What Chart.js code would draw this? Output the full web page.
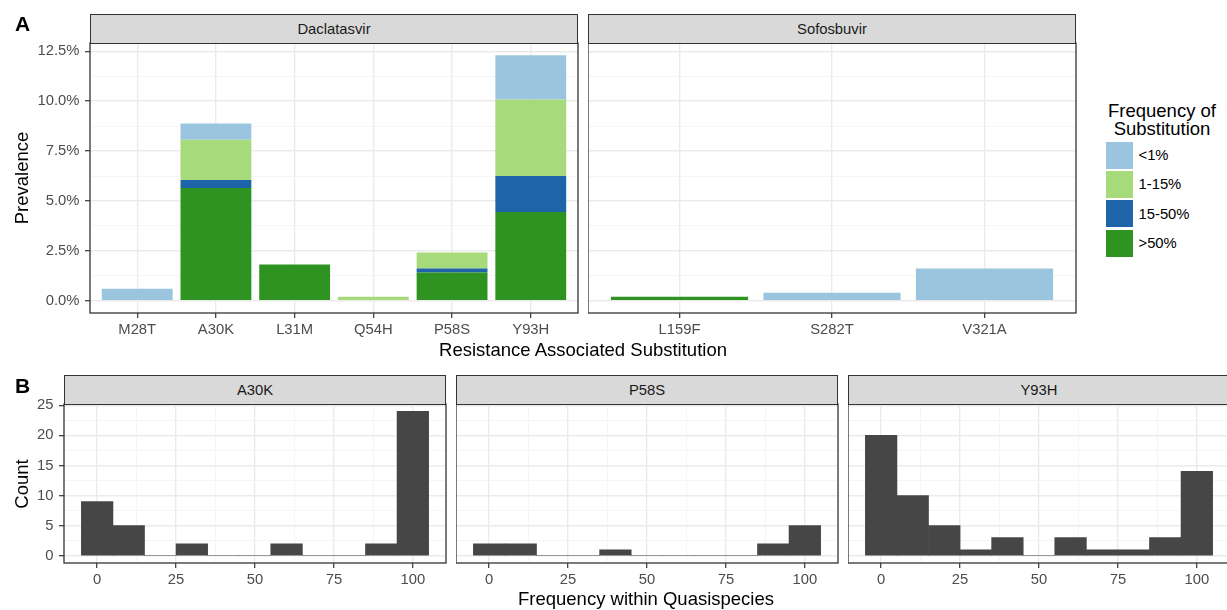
<!DOCTYPE html>
<html>
<head>
<meta charset="utf-8">
<title>Resistance associated substitutions</title>
<script src="https://cdn.jsdelivr.net/npm/chart.js@4.4.1/dist/chart.umd.min.js"></script>
<style>
  body { margin: 0; background: #fff; }
  #fig { position: relative; width: 1227px; height: 610px; overflow: hidden;
         font-family: "Liberation Sans", Arial, sans-serif; }
  #fig canvas { position: absolute; }
  .lbl { position: absolute; line-height: 1; white-space: nowrap; color: #000; }
  .strip { position: absolute; box-sizing: border-box; background: #d9d9d9;
           border: 1px solid #333; color: #1a1a1a; font-size: 14.8px;
           display: flex; align-items: center; justify-content: center; }
  .key { position: absolute; width: 27px; height: 27px; }
</style>
</head>
<body>
<div id="fig"></div>
<script>
// ---- data ----
const freqLevels = ['<1%', '1-15%', '15-50%', '>50%'];
const freqColors = ['#9bc5df', '#a6da7b', '#1f64a8', '#2e9320'];

// panel A, prevalence in %
const daclatasvirSubs = ['M28T', 'A30K', 'L31M', 'Q54H', 'P58S', 'Y93H'];
const daclatasvirLt1 = [0.60, 0.81, 0, 0, 0, 2.22];
const daclatasvir1to15 = [0, 2.02, 0, 0.20, 0.81, 3.83];
const daclatasvir15to50 = [0, 0.40, 0, 0, 0.20, 1.81];
const daclatasvirGt50 = [0, 5.65, 1.81, 0, 1.41, 4.44];

const sofosbuvirSubs = ['L159F', 'S282T', 'V321A'];
const sofosbuvirLt1 = [0, 0.40, 1.61];
const sofosbuvir1to15 = [0, 0, 0];
const sofosbuvir15to50 = [0, 0, 0];
const sofosbuvirGt50 = [0.20, 0, 0];

const prevalenceTicks = [0, 2.5, 5, 7.5, 10, 12.5];

// panel B, histogram counts per 10% bin
const binCenters = [0, 10, 20, 30, 40, 50, 60, 70, 80, 90, 100];
const binWidth = 10;
const countA30K = [9, 5, 0, 2, 0, 0, 2, 0, 0, 2, 24];
const countP58S = [2, 2, 0, 0, 1, 0, 0, 0, 0, 2, 5];
const countY93H = [20, 10, 5, 1, 3, 0, 3, 1, 1, 3, 14];

const countTicks = [0, 5, 10, 15, 20, 25];
const freqTicks = [0, 25, 50, 75, 100];

// ---- helpers ----
const fig = document.getElementById('fig');
const tickFont = { family: '"Liberation Sans", Arial, sans-serif', size: 14.8 };
const tickColor = '#4d4d4d';

function place(el, css) {
  Object.assign(el.style, css);
  fig.appendChild(el);
  return el;
}

function text(str, cx, cy, size, opts = {}) {
  const d = document.createElement('div');
  d.className = 'lbl';
  d.textContent = str;
  place(d, {
    left: cx + 'px', top: cy + 'px', fontSize: size + 'px',
    fontWeight: opts.bold ? 'bold' : 'normal',
    color: opts.color || '#000',
    transform: opts.left ? 'translate(0,-50%)'
      : 'translate(-50%,-50%)' + (opts.rotate ? ' rotate(-90deg)' : '')
  });
}

function strip(str, box, top) {
  const d = document.createElement('div');
  d.className = 'strip';
  d.textContent = str;
  place(d, { left: box.l + 'px', top: top + 'px', width: box.w + 'px', height: (box.t - top + 1) + 'px' });
}

function withMinor(major) {
  const out = [];
  major.forEach((v, i) => {
    out.push(v);
    if (i < major.length - 1) out.push((v + major[i + 1]) / 2);
  });
  return out;
}

const isIn = list => v => list.some(t => Math.abs(t - v) < 1e-9);

function gridOpts(isMajor, showTicks) {
  const maj = c => c.tick && isMajor(c.tick.value);
  return {
    color: c => maj(c) ? '#ebebeb' : '#f3f3f3',
    lineWidth: c => maj(c) ? 1.4 : 0.8,
    drawTicks: showTicks,
    tickLength: 5,
    tickColor: c => maj(c) ? '#333333' : 'rgba(0,0,0,0)',
    tickWidth: 1.2
  };
}

const panelFrame = {
  id: 'panelFrame',
  afterDraw(chart) {
    const { ctx, chartArea: a } = chart;
    ctx.save();
    ctx.strokeStyle = '#333333';
    ctx.lineWidth = 1.3;
    ctx.strokeRect(a.left, a.top, a.right - a.left, a.bottom - a.top);
    ctx.restore();
  }
};

function panel(cfg) {
  const yW = cfg.showY ? 60 : 0, xH = 34, padTop = 12, padRight = 2;
  const W = yW + cfg.box.w + padRight, H = padTop + cfg.box.h + xH;
  const cv = document.createElement('canvas');
  cv.width = W;
  cv.height = H;
  place(cv, { left: (cfg.box.l - yW) + 'px', top: (cfg.box.t - padTop) + 'px', width: W + 'px', height: H + 'px' });

  return new Chart(cv, {
    type: 'bar',
    data: { datasets: cfg.datasets },
    options: {
      responsive: false,
      animation: false,
      events: [],
      layout: { padding: { left: 0, right: padRight, top: padTop, bottom: 0 } },
      plugins: { legend: { display: false }, tooltip: { enabled: false } },
      datasets: { bar: { barPercentage: cfg.barPct, categoryPercentage: 1, borderWidth: 0 } },
      scales: {
        x: {
          type: 'linear', min: cfg.xMin, max: cfg.xMax, stacked: true, offset: false,
          afterBuildTicks: ax => { ax.ticks = cfg.xTicks.map(v => ({ value: v })); },
          afterFit: ax => { ax.height = xH; ax.paddingLeft = 0; ax.paddingRight = 0; },
          ticks: { autoSkip: false, maxRotation: 0, minRotation: 0, padding: 3,
                   color: tickColor, font: tickFont, callback: cfg.xLabel },
          grid: Object.assign(gridOpts(cfg.xMajor, true), { offset: false }),
          border: { display: false }
        },
        y: {
          type: 'linear', min: cfg.yMin, max: cfg.yMax, stacked: true,
          afterBuildTicks: ax => { ax.ticks = cfg.yTicks.map(v => ({ value: v })); },
          afterFit: ax => { ax.width = yW; ax.paddingTop = 0; ax.paddingBottom = 0; },
          ticks: { display: cfg.showY, autoSkip: false, padding: 5.5,
                   color: tickColor, font: tickFont, callback: cfg.yLabel },
          grid: gridOpts(cfg.yMajor, cfg.showY),
          border: { display: false }
        }
      }
    },
    plugins: [panelFrame]
  });
}

// ---- panel A: stacked prevalence ----
function stackedSets(series) {
  // bottom to top: >50%, 15-50%, 1-15%, <1%
  return [3, 2, 1, 0].map(k => ({
    label: freqLevels[k],
    backgroundColor: freqColors[k],
    data: series[k].map((v, i) => ({ x: i, y: v }))
  }));
}

const dacSeries = [daclatasvirLt1, daclatasvir1to15, daclatasvir15to50, daclatasvirGt50];
const sofSeries = [sofosbuvirLt1, sofosbuvir1to15, sofosbuvir15to50, sofosbuvirGt50];
const totals = s => s[0].map((_, i) => s.reduce((a, arr) => a + arr[i], 0));
const prevMax = Math.max(...totals(dacSeries), ...totals(sofSeries));
const prevTicksAll = withMinor(prevalenceTicks);

const boxDac = { l: 90, t: 43, w: 488, h: 270 };
const boxSof = { l: 588, t: 43, w: 488, h: 270 };

[[boxDac, daclatasvirSubs, dacSeries, true], [boxSof, sofosbuvirSubs, sofSeries, false]]
  .forEach(([box, subs, series, showY]) => {
    panel({
      box, showY, barPct: 0.9,
      datasets: stackedSets(series),
      xMin: -0.6, xMax: subs.length - 1 + 0.6,
      xTicks: subs.map((_, i) => i), xMajor: () => true,
      xLabel: v => subs[v],
      yMin: -0.05 * prevMax, yMax: prevMax * 1.05,
      yTicks: prevTicksAll, yMajor: isIn(prevalenceTicks),
      yLabel: v => isIn(prevalenceTicks)(v) ? v.toFixed(1) + '%' : ''
    });
  });

strip('Daclatasvir', boxDac, 14);
strip('Sofosbuvir', boxSof, 14);

// ---- panel B: histograms ----
const histLo = binCenters[0] - binWidth / 2;
const histHi = binCenters[binCenters.length - 1] + binWidth / 2;
const histSpan = histHi - histLo;
const countMax = Math.max(...countA30K, ...countP58S, ...countY93H);

const histPanels = [
  ['A30K', countA30K, { l: 64, t: 404, w: 382, h: 159 }, true],
  ['P58S', countP58S, { l: 456, t: 404, w: 382, h: 159 }, false],
  ['Y93H', countY93H, { l: 848, t: 404, w: 382, h: 159 }, false]
];

histPanels.forEach(([name, counts, box, showY]) => {
  panel({
    box, showY, barPct: 1,
    datasets: [{
      label: name,
      backgroundColor: '#464646',
      data: binCenters.map((c, i) => ({ x: c, y: counts[i] }))
    }],
    xMin: histLo - 0.05 * histSpan, xMax: histHi + 0.05 * histSpan,
    xTicks: withMinor(freqTicks), xMajor: isIn(freqTicks),
    xLabel: v => isIn(freqTicks)(v) ? String(v) : '',
    yMin: -0.05 * countMax, yMax: countMax * 1.05,
    yTicks: withMinor(countTicks), yMajor: isIn(countTicks),
    yLabel: v => isIn(countTicks)(v) ? String(v) : ''
  });
  strip(name, box, 375);
});

// ---- titles, tags, legend ----
text('A', 22.5, 22.5, 21, { bold: true });
text('B', 22.5, 384.5, 21, { bold: true });
text('Prevalence', 22, 178, 18.5, { rotate: true });
text('Resistance Associated Substitution', 583, 349.5, 18.5);
text('Count', 21.5, 484, 18.5, { rotate: true });
text('Frequency within Quasispecies', 646, 599, 18.5);

text('Frequency of', 1162, 110.5, 18.5);
text('Substitution', 1162, 128.5, 18.5);
freqLevels.forEach((lv, i) => {
  const top = 141.5 + i * 29.4;
  const k = document.createElement('div');
  k.className = 'key';
  place(k, { left: '1106px', top: top + 'px', background: freqColors[i] });
  text(lv, 1138.5, top + 13.5, 14.8, { left: true });
});
</script>
</body>
</html>
